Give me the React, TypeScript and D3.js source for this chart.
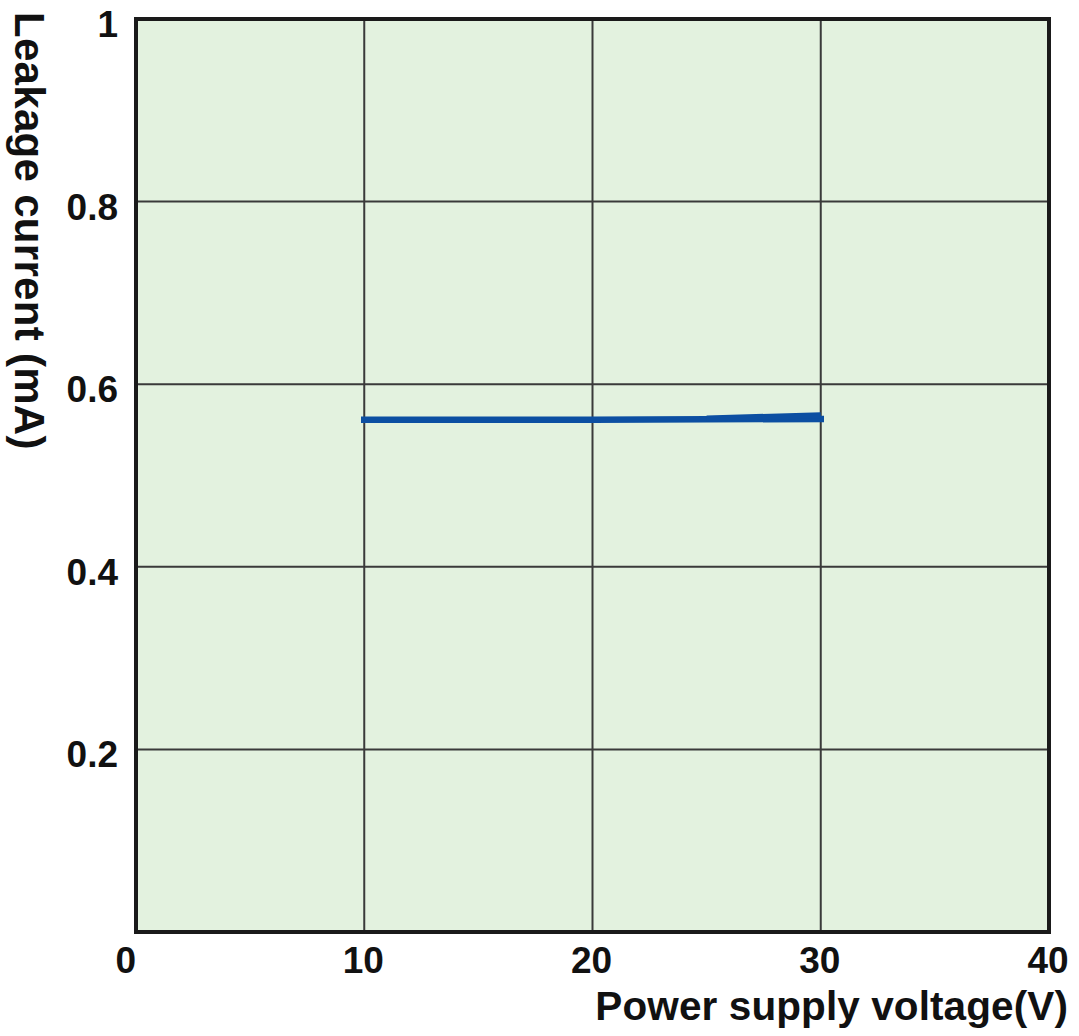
import React from "react";
import * as d3 from "d3";

const xTicks = [0, 10, 20, 30, 40];
const yTicks = [0.2, 0.4, 0.6, 0.8, 1];
const yTickLabels = ["0.2", "0.4", "0.6", "0.8", "1"];
const xTickLabels = ["0", "10", "20", "30", "40"];

const mainVoltage = [10, 20, 30];
const mainCurrent = [0.561, 0.561, 0.562];
const tailVoltage = [25, 30];
const tailCurrent = [0.5625, 0.566];

const xTitle = "Power supply voltage(V)";
const yTitle = "Leakage current (mA)";

const W = 1079;
const H = 1036;
const M = { left: 136, right: 1049, top: 19, bottom: 932 };

export default function App() {
  const x = d3.scaleLinear().domain([0, 40]).range([M.left, M.right]);
  const y = d3.scaleLinear().domain([0, 1]).range([M.bottom, M.top]);
  const line = d3
    .line<[number, number]>()
    .x((d) => x(d[0]))
    .y((d) => y(d[1]));
  const mainData: [number, number][] = mainVoltage.map((v, i) => [v, mainCurrent[i]]);
  const tailData: [number, number][] = tailVoltage.map((v, i) => [v, tailCurrent[i]]);
  const font = "'Liberation Sans', Arial, sans-serif";

  return (
    <svg
      width={W}
      height={H}
      style={{ position: "absolute", left: 0, top: 0, background: "#fff" }}
      fontFamily={font}
    >
      <rect
        x={M.left}
        y={M.top}
        width={M.right - M.left}
        height={M.bottom - M.top}
        fill="#e3f2df"
      />
      {xTicks.slice(1, -1).map((t) => (
        <line key={"gx" + t} x1={x(t)} x2={x(t)} y1={M.top} y2={M.bottom} stroke="#3a3a3a" strokeWidth={2} />
      ))}
      {yTicks.slice(0, -1).map((t) => (
        <line key={"gy" + t} x1={M.left} x2={M.right} y1={y(t)} y2={y(t)} stroke="#3a3a3a" strokeWidth={2} />
      ))}
      <rect
        x={M.left}
        y={M.top}
        width={M.right - M.left}
        height={M.bottom - M.top}
        fill="none"
        stroke="#1a1a1a"
        strokeWidth={4}
      />
      <path d={line(mainData) || ""} fill="none" stroke="#0c4fa2" strokeWidth={6.5} strokeLinecap="square" />
      <path d={line(tailData) || ""} fill="none" stroke="#0c4fa2" strokeWidth={6} strokeLinecap="butt" />
      {xTicks.map((t, i) => (
        <text
          key={"tx" + t}
          x={i === 0 ? x(t) : x(t) - 1}
          y={973}
          textAnchor={i === 0 ? "end" : "middle"}
          fontSize={37}
          fontWeight="bold"
          fill="#111"
        >
          {xTickLabels[i]}
        </text>
      ))}
      {yTicks.map((t, i) => (
        <text
          key={"ty" + t}
          x={118}
          y={y(t) + 18}
          textAnchor="end"
          fontSize={37}
          fontWeight="bold"
          fill="#111"
        >
          {yTickLabels[i]}
        </text>
      ))}
      <text
        x={1068}
        y={1020}
        textAnchor="end"
        fontSize={40.5}
        fontWeight="bold"
        letterSpacing={0.1}
        fill="#111"
      >
        {xTitle}
      </text>
      <text
        transform={`translate(15,12) rotate(90)`}
        textAnchor="start"
        fontSize={42}
        fontWeight="bold"
        letterSpacing={0.3}
        fill="#111"
      >
        {yTitle}
      </text>
    </svg>
  );
}
